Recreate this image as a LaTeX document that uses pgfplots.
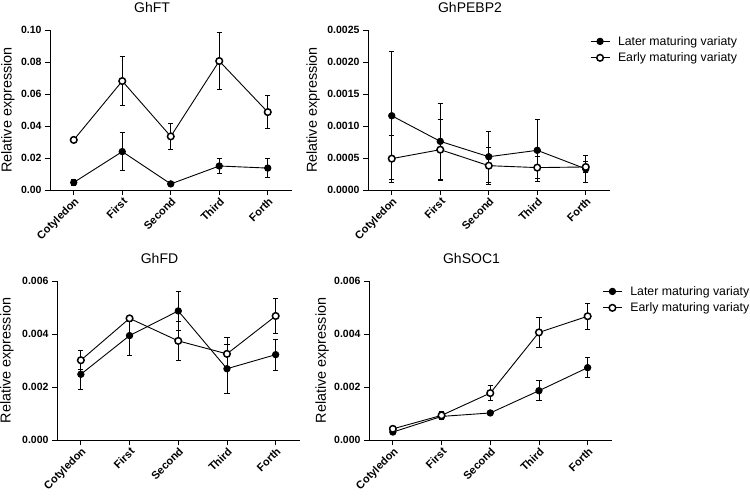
\documentclass[border=0pt]{standalone}
\usepackage{fontspec}
\setmainfont{Liberation Sans}
\usepackage{pgfplots}
\pgfplotsset{compat=1.18}

% later = filled dots, early = open circles
\pgfplotstableread{
x y e
0 0.0047 0.0020
1 0.0240 0.0118
2 0.0038 0.0005
3 0.0150 0.0047
4 0.0137 0.0058
}\ftlate
\pgfplotstableread{
x y e
0 0.0313 0.0010
1 0.0681 0.0155
2 0.0335 0.0081
3 0.0806 0.0178
4 0.0487 0.0102
}\ftearly
\pgfplotstableread{
x y e
0 0.00116 0.00100
1 0.00076 0.00060
2 0.00052 0.00040
3 0.00062 0.00048
4 0.00033 0.00021
}\pebplate
\pgfplotstableread{
x y e
0 0.00049 0.00037
1 0.00063 0.00048
2 0.00038 0.00029
3 0.00035 0.00017
4 0.00036 0.00008
}\pebpearly
\pgfplotstableread{
x y e
0 0.00248 0.00059
1 0.00394 0.00074
2 0.00487 0.00075
3 0.00269 0.00093
4 0.00322 0.00058
}\fdlate
\pgfplotstableread{
x y e
0 0.00301 0.00036
1 0.00459 0.00010
2 0.00374 0.00075
3 0.00325 0.00062
4 0.00468 0.00066
}\fdearly
\pgfplotstableread{
x y e
0 0.00030 0.00005
1 0.00089 0.00012
2 0.00102 0.00003
3 0.00186 0.00037
4 0.00273 0.00038
}\soclate
\pgfplotstableread{
x y e
0 0.00042 0.00004
1 0.00093 0.00016
2 0.00177 0.00027
3 0.00406 0.00058
4 0.00467 0.00049
}\socearly

\pgfplotsset{
  panel/.style={
    scale only axis,
    axis x line*=bottom, axis y line*=left,
    axis line style={line width=0.9pt, -},
    tick align=outside, major tick length=5pt,
    tick style={line width=0.9pt, black},
    xmin=-0.49, xmax=4.5,
    ymin=0,
    xtick={0,1,2,3,4},
    xticklabels={Cotyledon,First,Second,Third,Forth},
    /pgf/number format/assume math mode=true,
    ticklabel style={font=\fontsize{10.5}{12}\selectfont\bfseries},
    x tick label style={rotate=45, anchor=north east, inner sep=1pt,
      font=\fontsize{11}{12}\selectfont\bfseries},
    scaled y ticks=false,
    ylabel={Relative expression},
    ylabel style={font=\fontsize{14.4}{16}\selectfont, anchor=center},
    title style={at={(0.5,1)}, anchor=center, yshift=17pt, xshift=-19pt,
      font=\fontsize{14}{16}\selectfont},
    legend style={draw=none, fill=none, inner sep=0pt, anchor=north west,
      font=\fontsize{12.3}{14}\selectfont, row sep=2pt,
      /tikz/every odd column/.append style={column sep=6pt}},
    legend cell align=left,
    legend image code/.code={%
      \draw[#1, mark repeat=2, mark phase=2]
        plot coordinates {(0pt,0pt) (9.5pt,0pt) (19pt,0pt)};},
  },
  late/.style={black, line width=0.9pt, mark=*, mark size=3.2pt,
    mark options={fill=black, solid},
    error bars/.cd, y dir=both, y explicit,
    error bar style={line width=0.9pt, black},
    error mark options={rotate=90, mark size=2.6pt, line width=0.9pt, black}},
  early/.style={black, line width=0.9pt, mark=*, mark size=3.3pt,
    mark options={fill=white, draw=black, line width=1.5pt, solid},
    error bars/.cd, y dir=both, y explicit,
    error bar style={line width=0.9pt, black},
    error mark options={rotate=90, mark size=2.6pt, line width=0.9pt, black}},
}

\begin{document}
\begin{tikzpicture}
\useasboundingbox (0,0) rectangle (750pt,496pt);

% GhFT
\begin{axis}[panel, at={(50pt,306pt)}, anchor=south west,
  width=242pt, height=160pt, ymax=0.10,
  ytick={0,0.02,0.04,0.06,0.08,0.10},
  yticklabel style={/pgf/number format/.cd, fixed, fixed zerofill, precision=2},
  ylabel style={at={(axis description cs:-0.174,0.5)}},
  title={GhFT}]
\addplot[late] table[x=x, y=y, y error=e] {\ftlate};
\addplot[early] table[x=x, y=y, y error=e] {\ftearly};
\end{axis}

% GhPEBP2
\begin{axis}[panel, at={(368pt,306pt)}, anchor=south west,
  width=242pt, height=160pt, ymax=0.0025,
  ytick={0,0.0005,0.001,0.0015,0.002,0.0025},
  yticklabel style={/pgf/number format/.cd, fixed, fixed zerofill, precision=4},
  ylabel style={at={(axis description cs:-0.227,0.5)}},
  title={GhPEBP2},
  legend style={at={(0.917,0.975)}}]
\addplot[late] table[x=x, y=y, y error=e] {\pebplate};
\addplot[early] table[x=x, y=y, y error=e] {\pebpearly};
\legend{Later maturing variaty, Early maturing variaty}
\end{axis}

% GhFD
\begin{axis}[panel, at={(57pt,56pt)}, anchor=south west,
  width=243pt, height=159pt, ymax=0.006,
  ytick={0,0.002,0.004,0.006},
  yticklabel style={/pgf/number format/.cd, fixed, fixed zerofill, precision=3},
  ylabel style={at={(axis description cs:-0.206,0.5)}},
  title={GhFD}]
\addplot[late] table[x=x, y=y, y error=e] {\fdlate};
\addplot[early] table[x=x, y=y, y error=e] {\fdearly};
\end{axis}

% GhSOC1
\begin{axis}[panel, at={(369pt,56pt)}, anchor=south west,
  width=243pt, height=159pt, ymax=0.006,
  ytick={0,0.002,0.004,0.006},
  yticklabel style={/pgf/number format/.cd, fixed, fixed zerofill, precision=3},
  ylabel style={at={(axis description cs:-0.193,0.5)}},
  title={GhSOC1},
  legend style={at={(0.96,0.981)}}]
\addplot[late] table[x=x, y=y, y error=e] {\soclate};
\addplot[early] table[x=x, y=y, y error=e] {\socearly};
\legend{Later maturing variaty, Early maturing variaty}
\end{axis}
\end{tikzpicture}
\end{document}
